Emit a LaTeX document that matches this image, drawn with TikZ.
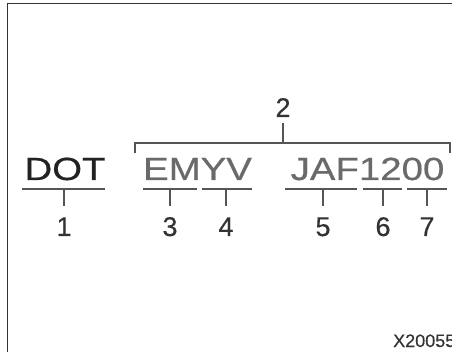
\documentclass[tikz,border=0pt]{standalone}
\usepackage{fontspec}
\setmainfont{Liberation Sans}
\newfontfamily\widefont[FakeStretch=1.2,FakeBold=0.5]{Liberation Sans}
\newfontfamily\numfont[FakeBold=0.4]{Liberation Sans}
\definecolor{codegray}{HTML}{6A6A6A}
\definecolor{dotblack}{HTML}{222222}
\definecolor{numgray}{HTML}{333333}
\definecolor{linegray}{HTML}{555555}
\begin{document}
\begin{tikzpicture}[x=1pt,y=-1pt,
  code/.style={inner sep=0pt,anchor=base,font=\widefont\fontsize{32}{32}\selectfont},
  num/.style={inner sep=0pt,anchor=base,text=numgray,font=\numfont\fontsize{27}{27}\selectfont},
  uline/.style={draw=linegray,line width=1.6pt},
  tickline/.style={draw=linegray,line width=1.4pt},
  frame/.style={draw=numgray,line width=1.5pt}]
\useasboundingbox (0,0) rectangle (452,352);
\clip (0,0) rectangle (452,352);
\fill[white] (0,0) rectangle (452,352);
% frame
\draw[frame] (7.5,352) -- (7.5,3.5) -- (452,3.5);
% code texts
\node[code,text=dotblack] (dot) at (65,180) {DOT};
\node[code,text=codegray] (emyv) at (197.5,180) {EMYV};
\node[code,text=codegray] (jaf) at (367.5,180) {JAF1200};
% bracket over EMYV JAF1200
\coordinate (bl) at (135,153);
\coordinate (blt) at (135,143);
\coordinate (brt) at (450,143);
\coordinate (br) at (450,153);
\coordinate (btop) at (283,143);
\node[num] (n2) at (283,117) {2};
\coordinate (n2b) at (283,123);
\draw[uline] (bl) -- (blt) -- (brt) -- (br);
\draw[tickline] (btop) -- (n2b);
% underlines and ticks
\foreach \a/\b/\t/\n in {22/105/64/1, 143/197/170/3, 202/252/226/4, 285/357/323/5, 363/402/383/6, 407/447/427/7}{
  \coordinate (ua\n) at (\a,189);
  \coordinate (ub\n) at (\b,189);
  \coordinate (ut\n) at (\t,189);
  \coordinate (ud\n) at (\t,206);
  \draw[uline] (ua\n) -- (ub\n);
  \draw[tickline] (ut\n) -- (ud\n);
  \node[num] (num\n) at (\t,236) {\n};
}
% figure reference
\node[inner sep=0pt,anchor=base west,text=numgray,font=\numfont\fontsize{18}{18}\selectfont] (ref) at (393,347) {X20055};
\end{tikzpicture}
\end{document}
